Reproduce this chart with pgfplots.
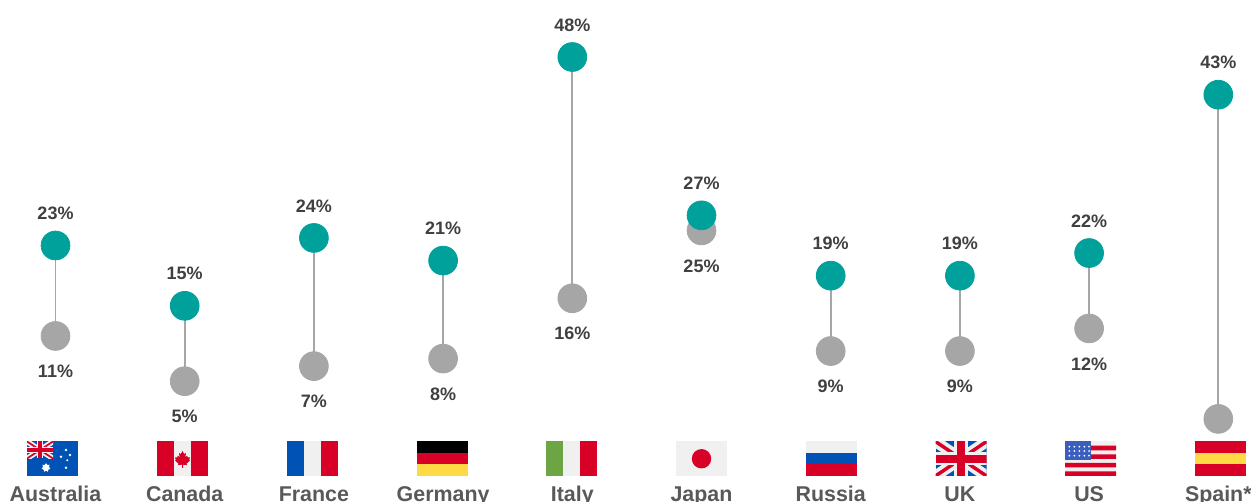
\documentclass[border=0pt]{standalone}
\usepackage{fontspec}
\setmainfont{Liberation Sans}
\usepackage{pgfplots}
\pgfplotsset{compat=1.18}
\usetikzlibrary{shapes.geometric}

\definecolor{teal1}{HTML}{00A09B}
\definecolor{grey1}{HTML}{A6A6A6}
\definecolor{lab1}{HTML}{404040}
\definecolor{lab2}{HTML}{595959}
\definecolor{fred}{HTML}{D80027}
\definecolor{fblue}{HTML}{0052B4}
\definecolor{fusblue}{HTML}{3B5FBF}
\definecolor{fwhite}{HTML}{F0F0F0}
\definecolor{fyellow}{HTML}{FFDA44}
\definecolor{fgreen}{HTML}{6DA544}

% flags are drawn in picture pixels, 51 x 34.5, y downwards
\newcommand{\flagat}[2]{%
  \begin{scope}[shift={(#1*0.5pt,30.25pt)},x=0.5pt,y=-0.5pt]#2\end{scope}}
\newcommand{\bands}[3]{%
  \fill[#1] (0,0) rectangle (17,34.5);
  \fill[#2] (17,0) rectangle (34,34.5);
  \fill[#3] (34,0) rectangle (51,34.5);}
\newcommand{\stripes}[3]{%
  \fill[#1] (0,0) rectangle (51,11.5);
  \fill[#2] (0,11.5) rectangle (51,23);
  \fill[#3] (0,23) rectangle (51,34.5);}
\newcommand{\jack}[2]{% width, height
  \begin{scope}
  \clip (0,0) rectangle (#1,#2);
  \fill[fblue] (0,0) rectangle (#1,#2);
  \draw[fwhite,line width=#2*0.16pt] (0,0) -- (#1,#2) (0,#2) -- (#1,0);
  \draw[fred,line width=#2*0.05pt] (0,0) -- (#1,#2) (0,#2) -- (#1,0);
  \fill[fwhite] (0,#2*0.31) rectangle (#1,#2*0.69);
  \fill[fwhite] (#1*0.37,0) rectangle (#1*0.63,#2);
  \fill[fred] (0,#2*0.39) rectangle (#1,#2*0.61);
  \fill[fred] (#1*0.42,0) rectangle (#1*0.58,#2);
  \end{scope}}

\begin{document}
\begin{tikzpicture}
\useasboundingbox (0,0) rectangle (625.5pt,251pt);
\clip (0,0) rectangle (625.5pt,251pt);
\begin{axis}[
    at={(0,0)}, anchor=south west,
    scale only axis, width=625.5pt, height=251pt,
    xmin=-0.4296, xmax=9.2531,
    ymin=-11.02, ymax=55.56,
    clip=false,
    axis line style={draw=none},
    ytick=\empty,
    xtick={0,1,2,3,4,5,6,7,8,9},
    xticklabels={Australia,Canada,France,Germany,Italy,Japan,Russia,UK,US,Spain*},
    major tick length=0pt,
    xticklabel style={font=\fontsize{10.7}{12}\selectfont\bfseries, text=lab2,
        anchor=base, inner sep=0pt, yshift=0.4pt},
    point meta=explicit symbolic,
]

% connecting lines
\addplot[grey1, line width=0.95pt, forget plot] coordinates {(0,23) (0,11)};
\addplot[grey1, line width=0.95pt, forget plot] coordinates {(1,15) (1,5)};
\addplot[grey1, line width=0.95pt, forget plot] coordinates {(2,24) (2,7)};
\addplot[grey1, line width=0.95pt, forget plot] coordinates {(3,21) (3,8)};
\addplot[grey1, line width=0.95pt, forget plot] coordinates {(4,48) (4,16)};
\addplot[grey1, line width=0.95pt, forget plot] coordinates {(5,27) (5,25)};
\addplot[grey1, line width=0.95pt, forget plot] coordinates {(6,19) (6,9)};
\addplot[grey1, line width=0.95pt, forget plot] coordinates {(7,19) (7,9)};
\addplot[grey1, line width=0.95pt, forget plot] coordinates {(8,22) (8,12)};
\addplot[grey1, line width=0.95pt, forget plot] coordinates {(9,43) (9,0)};

% lower values
\addplot[grey1, only marks, mark=*, mark size=7.2pt, mark options={fill=grey1, draw=grey1},
    nodes near coords,
    every node near coord/.append style={anchor=center, yshift=-17.75pt, inner sep=0pt,
        font=\fontsize{9}{10}\selectfont\bfseries, text=lab1}]
  coordinates {
    (0,11) [11\%] (1,5) [5\%] (2,7) [7\%] (3,8) [8\%] (4,16) [16\%]
    (5,25) [25\%] (6,9) [9\%] (7,9) [9\%] (8,12) [12\%] (9,0) [\phantom{0}]
  };

% upper values
\addplot[teal1, only marks, mark=*, mark size=7.2pt, mark options={fill=teal1, draw=teal1},
    nodes near coords,
    every node near coord/.append style={anchor=center, yshift=16.05pt, inner sep=0pt,
        font=\fontsize{9}{10}\selectfont\bfseries, text=lab1}]
  coordinates {
    (0,23) [23\%] (1,15) [15\%] (2,24) [24\%] (3,21) [21\%] (4,48) [48\%]
    (5,27) [27\%] (6,19) [19\%] (7,19) [19\%] (8,22) [22\%] (9,43) [43\%]
  };
\end{axis}

% Australia
\flagat{27}{\fill[fblue] (0,0) rectangle (51,34.5);
  \jack{26}{17}
  \fill[white] (39,8.5) circle (1.4) (34,15.2) circle (1.4) (43,13.5) circle (1.4)
    (40.3,18.8) circle (1.1) (39,26.2) circle (1.4);
  \node[star, star points=7, fill=white, inner sep=0pt, minimum size=4.5pt] at (19,26.2) {};}
% Canada
\flagat{157}{\bands{fred}{fwhite}{fred}
  \fill[fred] (25.5,9.5) -- (27.2,12.5) -- (29,11.6) -- (28.3,15.6) -- (30,14.2) -- (31,16)
    -- (33,15.8) -- (32.2,18.2) -- (33,19) -- (29.5,22.2) -- (30,23.6) -- (26,23.2) -- (26,26.5)
    -- (25,26.5) -- (25,23.2) -- (21,23.6) -- (21.5,22.2) -- (18,19) -- (18.8,18.2) -- (18,15.8)
    -- (20,16) -- (21,14.2) -- (22.7,15.6) -- (22,11.6) -- (23.8,12.5) -- cycle;}
% France
\flagat{287}{\bands{fblue}{fwhite}{fred}}
% Germany
\flagat{416.5}{\stripes{black}{fred}{fyellow}}
% Italy
\flagat{546}{\bands{fgreen}{fwhite}{fred}}
% Japan
\flagat{676}{\fill[fwhite] (0,0) rectangle (51,34.5);
  \fill[fred] (25.5,17.25) circle (9.7);}
% Russia
\flagat{806}{\stripes{fwhite}{fblue}{fred}}
% UK
\flagat{935.5}{\jack{51}{34.5}}
% US
\flagat{1065}{\fill[fwhite] (0,0) rectangle (51,34.5);
  \fill[fred] (0,4.2) rectangle (51,9) (0,12.8) rectangle (51,17.5)
    (0,21.5) rectangle (51,25.8) (0,29.8) rectangle (51,34.5);
  \fill[fusblue] (0,0) rectangle (26,19);
  \foreach \sx in {4.3,9.3,14.3,19.3,24}{\foreach \sy in {5.2,9.5,14.2}{
    \fill[white] (\sx,\sy) circle (1);}}}
% Spain
\flagat{1195}{\stripes{fred}{fyellow}{fred}}
\end{tikzpicture}
\end{document}
